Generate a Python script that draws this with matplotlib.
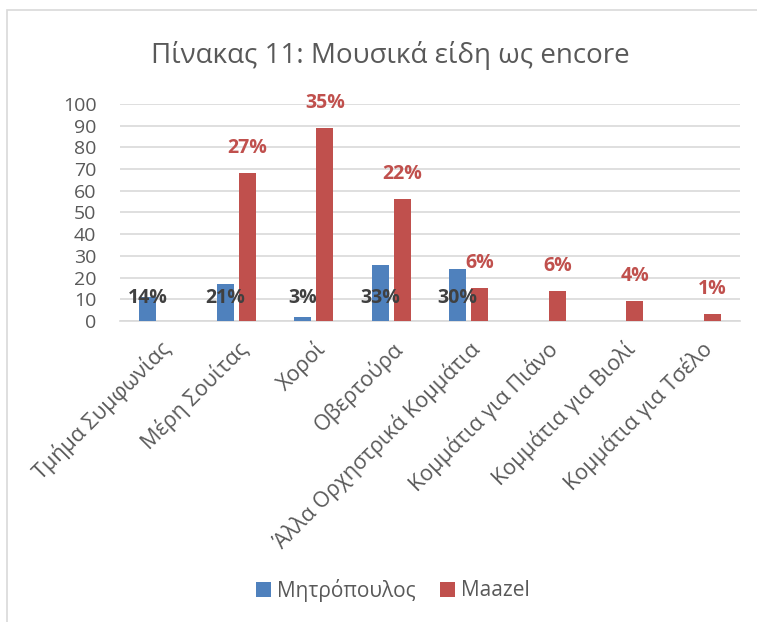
import matplotlib

matplotlib.use("Agg")
import matplotlib.pyplot as plt
import numpy as np
from matplotlib.patches import Rectangle

categories = ["Τμήμα Συμφωνίας", "Μέρη Σουίτας", "Χοροί", "Οβερτούρα",
              "Άλλα Ορχηστρικά Κομμάτια", "Κομμάτια για Πιάνο",
              "Κομμάτια για Βιολί", "Κομμάτια για Τσέλο"]
mitropoulos = [11, 17, 2, 26, 24, 0, 0, 0]
maazel = [0, 68, 89, 56, 15, 14, 9, 3]
mitropoulos_pct = ["14%", "21%", "3%", "33%", "30%", "", "", ""]
maazel_pct = ["", "27%", "35%", "22%", "6%", "6%", "4%", "1%"]

BLUE = "#4F81BD"
RED = "#C0504D"
GREY = "#595959"

plt.rcParams["font.family"] = ["Open Sans", "DejaVu Sans"]

fig = plt.figure(figsize=(7.57, 6.22), dpi=100)
ax = fig.add_axes([120 / 757, 1 - 321 / 622, 620 / 757, 217 / 622])

# chart frame
fig.patches.append(Rectangle((7 / 757, -0.1), 1.1, 1 - 10 / 622 + 0.1,
                             transform=fig.transFigure, fill=False,
                             edgecolor="#D9D9D9", linewidth=1.2))

x = np.arange(len(categories))
w = 0.22
off = 0.142
ax.bar(x - off, mitropoulos, w, color=BLUE, label="Μητρόπουλος", zorder=3)
ax.bar(x + off, maazel, w, color=RED, label="Maazel", zorder=3)

for i, t in enumerate(mitropoulos_pct):
    if t:
        ax.text(x[i] - off, 10.5, t, ha="center", va="center", fontsize=14,
                fontweight="bold", color="#404040", zorder=4)
for i, t in enumerate(maazel_pct):
    if t:
        ax.annotate(t, (x[i] + off, maazel[i]), xytext=(0, 25),
                    textcoords="offset pixels", ha="center", va="center",
                    fontsize=14, fontweight="bold", color=RED, zorder=4)

ax.set_xlim(-0.5, len(categories) - 0.5)
ax.set_ylim(0, 100)
ax.set_yticks(range(0, 101, 10))
ax.yaxis.grid(True, color="#D9D9D9", linewidth=1.2, zorder=0)
ax.set_axisbelow(True)
for s in ["top", "right", "left"]:
    ax.spines[s].set_visible(False)
ax.spines["bottom"].set_color("#D9D9D9")
ax.spines["bottom"].set_linewidth(1.2)
ax.tick_params(axis="both", length=0, labelsize=14, colors=GREY)
ax.tick_params(axis="y", pad=17)
ax.tick_params(axis="x", pad=12, labelsize=15.5)
ax.set_xticks(x)
ax.set_xticklabels(categories, rotation=45, ha="right", rotation_mode="anchor")

fig.text(390 / 757, 1 - 55 / 622, "Πίνακας 11: Μουσικά είδη ως encore",
         ha="center", va="center", fontsize=20, color=GREY)

fig.legend(loc="center", bbox_to_anchor=(393 / 757, 1 - 590 / 622), ncol=2,
           frameon=False, fontsize=15, handlelength=0.7, handleheight=0.7,
           columnspacing=1.2, handletextpad=0.3, labelcolor=GREY)

fig.savefig("out.png", dpi=100)
